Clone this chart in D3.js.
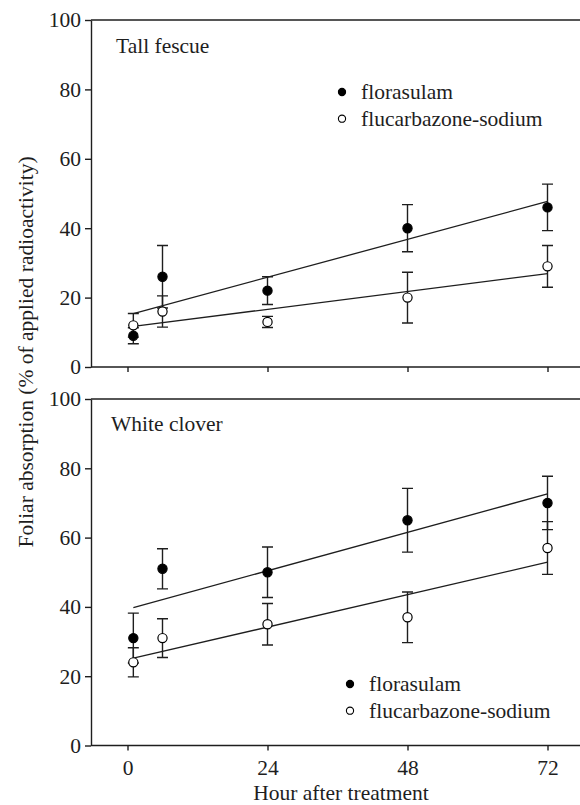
<!DOCTYPE html>
<html>
<head>
<meta charset="utf-8">
<script src="https://cdn.jsdelivr.net/npm/d3@7"></script>
<style>
  body { margin: 0; background: #fff; }
  svg { display: block; }
  text { font-family: "Liberation Serif", "Times New Roman", serif; fill: #1e1e1e; }
</style>
</head>
<body>
<svg id="chart" width="580" height="805"></svg>
<script>
// sampling times (hours after treatment)
var hours = [1, 6, 24, 48, 72];
var xTicks = [0, 24, 48, 72];
var yTicks = [0, 20, 40, 60, 80, 100];
var seriesNames = ["florasulam", "flucarbazone-sodium"];

// Tall fescue
var tallFlorasulam = [9, 26, 22, 40, 46];
var tallFlorasulamErr = [2.3, 9, 4, 6.8, 6.7];
var tallFlucarbazone = [12, 16, 13, 20, 29];
var tallFlucarbazoneErr = [3.4, 4.5, 1.6, 7.3, 6];

// White clover
var cloverFlorasulam = [31, 51, 50, 65, 70];
var cloverFlorasulamErr = [7.2, 5.8, 7.3, 9.2, 7.7];
var cloverFlucarbazone = [24, 31, 35, 37, 57];
var cloverFlucarbazoneErr = [4.2, 5.6, 6, 7.3, 7.6];

// regression lines, value at first and last hour
var fitHours = [1, 72];
var tallFlorasulamFit = [15.4, 47.7];
var tallFlucarbazoneFit = [11.7, 26.9];
var cloverFlorasulamFit = [39.8, 72.6];
var cloverFlucarbazoneFit = [25.2, 52.9];

var svg = d3.select("#chart");
var ink = "#1e1e1e";
var fs = "21.5px";
var left = 91, right = 600;

var x = d3.scaleLinear().domain([0, 72]).range([127.5, 547.5]);

var panels = [
    {
        label: "Tall fescue", labelX: 116, labelY: 53,
        top: 20, bottom: 367, showX: false,
        legendX: 342, legendY: 92,
        series: [
            { vals: tallFlorasulam, err: tallFlorasulamErr, fit: tallFlorasulamFit, filled: true },
            { vals: tallFlucarbazone, err: tallFlucarbazoneErr, fit: tallFlucarbazoneFit, filled: false }
        ]
    },
    {
        label: "White clover", labelX: 111, labelY: 431,
        top: 399, bottom: 745.5, showX: true,
        legendX: 350, legendY: 684,
        series: [
            { vals: cloverFlorasulam, err: cloverFlorasulamErr, fit: cloverFlorasulamFit, filled: true },
            { vals: cloverFlucarbazone, err: cloverFlucarbazoneErr, fit: cloverFlucarbazoneFit, filled: false }
        ]
    }
];

panels.forEach(function (p) {
    var y = d3.scaleLinear().domain([0, 100]).range([p.bottom, p.top]);
    var g = svg.append("g");

    // frame top line (right side runs off the picture)
    g.append("path")
        .attr("d", "M" + left + "," + p.top + "H" + right)
        .attr("stroke", ink).attr("stroke-width", 1.4).attr("fill", "none");

    // y axis
    var ya = g.append("g")
        .attr("transform", "translate(" + left + ",0)")
        .call(d3.axisLeft(y).tickValues(yTicks).tickSize(6).tickPadding(4).tickSizeOuter(0));
    ya.selectAll("text").style("font-size", fs).attr("fill", ink);

    // x axis
    var xa = g.append("g")
        .attr("transform", "translate(0," + p.bottom + ")")
        .call(d3.axisBottom(x).tickValues(xTicks).tickSize(5).tickPadding(9).tickSizeOuter(0));
    xa.select(".domain").attr("d", "M" + left + ",0H" + right);
    xa.selectAll("text").style("font-size", fs).attr("fill", ink);
    if (!p.showX) xa.selectAll("text").remove();

    g.selectAll(".domain, .tick line").attr("stroke", ink).attr("stroke-width", 1.4);

    // panel label
    g.append("text")
        .attr("x", p.labelX).attr("y", p.labelY)
        .style("font-size", fs)
        .text(p.label);

    // regression lines
    p.series.forEach(function (s) {
        g.append("line")
            .attr("x1", x(fitHours[0])).attr("y1", y(s.fit[0]))
            .attr("x2", x(fitHours[1])).attr("y2", y(s.fit[1]))
            .attr("stroke", ink).attr("stroke-width", 1.3);
    });

    // error bars
    p.series.forEach(function (s) {
        var eb = g.append("g");
        hours.forEach(function (h, i) {
            var cx = x(h), hi = y(s.vals[i] + s.err[i]), lo = y(s.vals[i] - s.err[i]);
            eb.append("path")
                .attr("d", "M" + cx + "," + hi + "V" + lo +
                    "M" + (cx - 5.5) + "," + hi + "H" + (cx + 5.5) +
                    "M" + (cx - 5.5) + "," + lo + "H" + (cx + 5.5))
                .attr("stroke", ink).attr("stroke-width", 1.4).attr("fill", "none");
        });
    });

    // points
    p.series.forEach(function (s) {
        g.selectAll(null)
            .data(hours)
            .enter().append("circle")
            .attr("cx", function (d) { return x(d); })
            .attr("cy", function (d, i) { return y(s.vals[i]); })
            .attr("r", 4.6)
            .attr("fill", s.filled ? "#000" : "#fff")
            .attr("stroke", "#000")
            .attr("stroke-width", 1.2);
    });

    // legend
    seriesNames.forEach(function (name, i) {
        var ly = p.legendY + i * 26.7;
        g.append("circle")
            .attr("cx", p.legendX).attr("cy", ly).attr("r", 3.6)
            .attr("fill", i === 0 ? "#000" : "#fff")
            .attr("stroke", "#000").attr("stroke-width", 1.1);
        g.append("text")
            .attr("x", p.legendX + 19).attr("y", ly + 7)
            .style("font-size", fs)
            .text(name);
    });
});

// axis titles
svg.append("text")
    .attr("transform", "translate(33,352) rotate(-90)")
    .attr("text-anchor", "middle")
    .style("font-size", fs)
    .text("Foliar absorption (% of applied radioactivity)");

svg.append("text")
    .attr("x", 341).attr("y", 800)
    .attr("text-anchor", "middle")
    .style("font-size", fs)
    .text("Hour after treatment");
</script>
</body>
</html>
